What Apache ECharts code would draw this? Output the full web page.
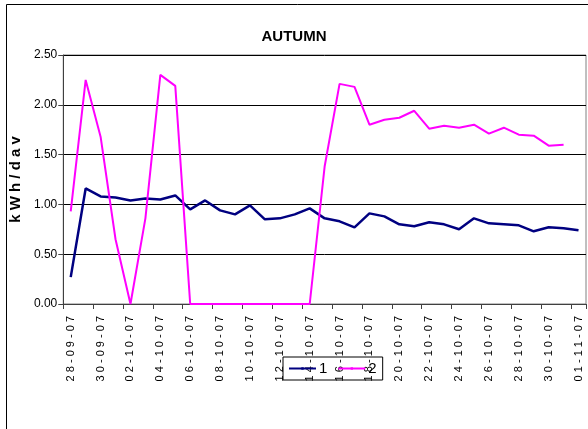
<!DOCTYPE html>
<html><head><meta charset="utf-8">
<script src="https://cdn.jsdelivr.net/npm/echarts@6/dist/echarts.min.js"></script>
<style>html,body{margin:0;padding:0;background:#fff}#c{width:588px;height:429px}</style>
</head><body><div id="c"></div>
<script>
var categories = ["28-09-07","29-09-07","30-09-07","01-10-07","02-10-07","03-10-07","04-10-07","05-10-07","06-10-07","07-10-07","08-10-07","09-10-07","10-10-07","11-10-07","12-10-07","13-10-07","14-10-07","15-10-07","16-10-07","17-10-07","18-10-07","19-10-07","20-10-07","21-10-07","22-10-07","23-10-07","24-10-07","25-10-07","26-10-07","27-10-07","28-10-07","29-10-07","30-10-07","31-10-07","01-11-07"];
var series1 = [0.27,1.16,1.08,1.07,1.04,1.06,1.05,1.09,0.95,1.04,0.94,0.90,0.99,0.85,0.86,0.90,0.96,0.86,0.83,0.77,0.91,0.88,0.80,0.78,0.82,0.80,0.75,0.86,0.81,0.80,0.79,0.73,0.77,0.76,0.74];
var series2 = [0.93,2.25,1.68,0.65,0.00,0.86,2.30,2.19,0,0,0,0,0,0,0,0,0,1.38,2.21,2.18,1.80,1.85,1.87,1.94,1.76,1.79,1.77,1.80,1.71,1.77,1.70,1.69,1.59,1.60,null];
var seriesNames = ["1","2"];
var yTicks = {min:0, max:2.5, interval:0.5};

var FONT = '"Liberation Sans Narrow","Arial Narrow","Liberation Sans",Arial,sans-serif';
function spaced(s){ return s.split('').join(' '); }
var chart = echarts.init(document.getElementById('c'), null, {renderer:'canvas'});
chart.setOption({
  animation:false,
  backgroundColor:'#fff',
  title:{text:'AUTUMN', left:'center', top:24, textStyle:{fontFamily:FONT, fontSize:15, fontWeight:'bold', color:'#000'}},
  graphic:[{type:'rect', shape:{x:6.5,y:4.5,width:600,height:500}, style:{fill:null, stroke:'#000', lineWidth:1}, silent:true}],
  grid:{left:59, right:2, top:55, bottom:125, show:true, borderColor:'#808080', borderWidth:1, backgroundColor:'transparent'},
  legend:{data:seriesNames, left:283, top:357, orient:'horizontal', itemWidth:27, itemHeight:3, itemGap:10,
    padding:[4,6,4,5], borderColor:'#000', borderWidth:1,
    textStyle:{fontFamily:FONT, fontSize:15, color:'#000', padding:[0,0,0,-2]}},
  xAxis:{type:'category', data:categories, boundaryGap:true,
    axisLine:{show:true, lineStyle:{color:'#404040', width:1}},
    axisTick:{show:true, interval:1, length:5, lineStyle:{color:'#404040'}},
    axisLabel:{interval:1, rotate:90, margin:12, fontFamily:FONT, fontSize:11, color:'#000', formatter:function(v){return spaced(v);}},
    splitLine:{show:false}},
  yAxis:{type:'value', min:yTicks.min, max:yTicks.max, interval:yTicks.interval,
    name:spaced('kWh/dav'), nameLocation:'middle', nameGap:24, nameRotate:90,
    nameTextStyle:{fontFamily:FONT, fontSize:15, fontWeight:'bold', color:'#000'},
    axisLine:{show:true, lineStyle:{color:'#404040'}},
    axisTick:{show:true, length:5, lineStyle:{color:'#404040'}},
    axisLabel:{fontFamily:FONT, fontSize:12, color:'#000', margin:6, formatter:function(v){return v.toFixed(2);}},
    splitLine:{show:true, lineStyle:{color:'#000', width:1}}},
  series:[
    {name:seriesNames[0], type:'line', data:series1, symbol:'rect', symbolSize:1, showSymbol:false, lineStyle:{color:'#000080', width:2.5}, itemStyle:{color:'#000080'}},
    {name:seriesNames[1], type:'line', data:series2, symbol:'rect', symbolSize:1, showSymbol:false, connectNulls:false, lineStyle:{color:'#FF00FF', width:2}, itemStyle:{color:'#FF00FF'}}
  ]
});
</script></body></html>
